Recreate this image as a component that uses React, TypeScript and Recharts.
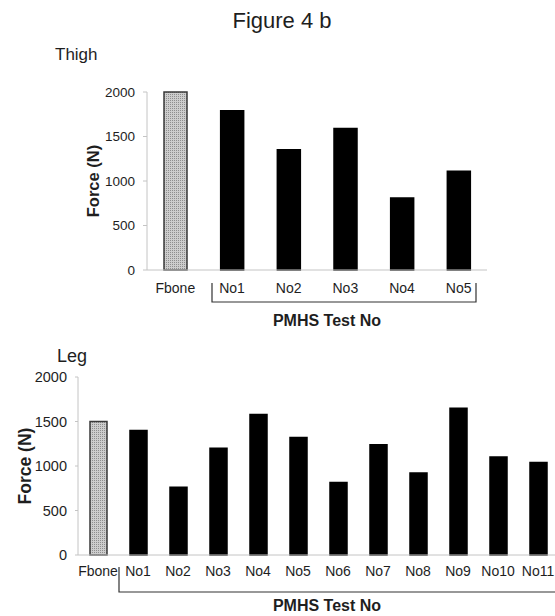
import React from 'react';
import { BarChart, Bar, XAxis, YAxis, Cell } from 'recharts';

const thighCategories = ['Fbone', 'No1', 'No2', 'No3', 'No4', 'No5'];
const thighForce = [2000, 1790, 1350, 1590, 810, 1110];

const legCategories = ['Fbone', 'No1', 'No2', 'No3', 'No4', 'No5', 'No6', 'No7', 'No8', 'No9', 'No10', 'No11'];
const legForce = [1500, 1400, 760, 1200, 1580, 1320, 815, 1240, 920, 1650, 1100, 1040];

const forceTicks = [0, 500, 1000, 1500, 2000];

const FONT = '"Liberation Sans", Arial, sans-serif';
const AXIS_GRAY = '#c4c4c4';
const TEXT = '#1e1e1e';

const thighData = thighCategories.map((name, i) => ({ name, force: thighForce[i] }));
const legData = legCategories.map((name, i) => ({ name, force: legForce[i] }));

const barFill = (name: string) => (name === 'Fbone' ? 'url(#fboneHatch)' : '#000');
const barStroke = (name: string) => (name === 'Fbone' ? '#3a3a3a' : '#000');

const App: React.FC = () => {
  return (
    <div
      style={{
        position: 'absolute',
        left: 0,
        top: 0,
        width: 555,
        height: 616,
        overflow: 'hidden',
        background: '#fff',
        fontFamily: FONT,
      }}
    >
      {/* Thigh chart */}
      <div style={{ position: 'absolute', left: 0, top: 0 }}>
        <BarChart
          width={500}
          height={300}
          data={thighData}
          margin={{ top: 92, right: 13, bottom: 0, left: 0 }}
          barSize={23}
        >
          <XAxis
            dataKey="name"
            height={30}
            tickLine={false}
            tickMargin={7}
            stroke={AXIS_GRAY}
            tick={{ fill: TEXT, fontSize: 14, fontFamily: FONT }}
            interval={0}
          />
          <YAxis
            width={147}
            domain={[0, 2000]}
            ticks={forceTicks}
            tickSize={4}
            tickMargin={8}
            stroke={AXIS_GRAY}
            tick={{ fill: TEXT, fontSize: 13.5, fontFamily: FONT }}
          />
          <Bar dataKey="force" isAnimationActive={false}>
            {thighData.map((d) => (
              <Cell key={d.name} fill={barFill(d.name)} stroke={barStroke(d.name)} strokeWidth={1.5} />
            ))}
          </Bar>
        </BarChart>
      </div>

      {/* Leg chart */}
      <div style={{ position: 'absolute', left: 0, top: 330 }}>
        <BarChart
          width={565}
          height={255}
          data={legData}
          margin={{ top: 47, right: 7, bottom: 0, left: 0 }}
          barSize={17}
        >
          <XAxis
            dataKey="name"
            height={30}
            tickLine={false}
            tickMargin={5}
            stroke={AXIS_GRAY}
            tick={{ fill: TEXT, fontSize: 14, fontFamily: FONT }}
            interval={0}
          />
          <YAxis
            width={78}
            domain={[0, 2000]}
            ticks={forceTicks}
            tickSize={3}
            tickMargin={8}
            stroke={AXIS_GRAY}
            tick={{ fill: TEXT, fontSize: 14.5, fontFamily: FONT }}
          />
          <Bar dataKey="force" isAnimationActive={false}>
            {legData.map((d) => (
              <Cell key={d.name} fill={barFill(d.name)} stroke={barStroke(d.name)} strokeWidth={1.5} />
            ))}
          </Bar>
        </BarChart>
      </div>

      {/* titles, axis titles and brackets */}
      <svg
        width={555}
        height={616}
        style={{ position: 'absolute', left: 0, top: 0, pointerEvents: 'none' }}
        fontFamily={FONT}
      >
        <defs>
          <pattern id="fboneHatch" width={2} height={2} patternUnits="userSpaceOnUse">
            <rect width={2} height={2} fill="#cdcdcd" />
            <rect width={1} height={1} fill="#8e8e8e" />
          </pattern>
        </defs>

        <text x={282} y={28} fontSize={22} textAnchor="middle" fill={TEXT}>Figure 4 b</text>
        <text x={55} y={60} fontSize={17} fill={TEXT}>Thigh</text>
        <text x={57} y={362} fontSize={18} fill={TEXT}>Leg</text>

        <text x={99} y={181} fontSize={16.5} fontWeight="bold" textAnchor="middle" fill={TEXT}
          transform="rotate(-90 99 181)">Force (N)</text>
        <text x={31} y={466} fontSize={17.5} fontWeight="bold" textAnchor="middle" fill={TEXT}
          transform="rotate(-90 31 466)">Force (N)</text>

        <path d="M212,283 V302 H476 V283" fill="none" stroke="#333" strokeWidth={1.2} />
        <text x={327} y={326} fontSize={16} fontWeight="bold" textAnchor="middle" fill={TEXT}>PMHS Test No</text>

        <path d="M119,567 V592 H560" fill="none" stroke="#333" strokeWidth={1.2} />
        <text x={327} y={611} fontSize={16} fontWeight="bold" textAnchor="middle" fill={TEXT}>PMHS Test No</text>
      </svg>
    </div>
  );
};

export default App;
